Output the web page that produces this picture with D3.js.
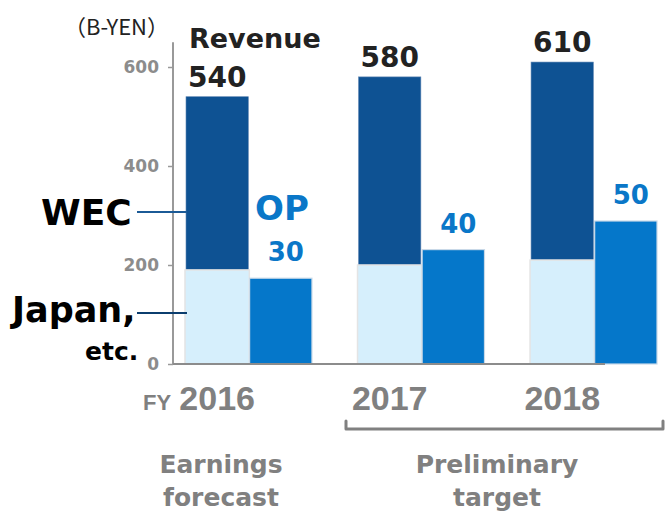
<!DOCTYPE html>
<html>
<head>
<meta charset="utf-8">
<script src="https://cdn.jsdelivr.net/npm/d3@7"></script>
<style>
  body { margin: 0; background: #fff; }
  svg { display: block; }
</style>
</head>
<body>
<div id="vis-holder"></div>
<script>
// Data
const years = ["2016", "2017", "2018"];
const japanRevenue = [190, 200, 210];
const totalRevenue = [540, 580, 610];
const operatingProfit = [30, 40, 50];
const revenueTicks = [0, 200, 400, 600];

const width = 665;
const height = 511;

const darkBlue = "#0e5293";
const lightBlue = "#d6effc";
const opBlue = "#0577ca";
const gray = "#808080";

const svg = d3.select("#vis-holder")
  .append("svg")
  .attr("width", width)
  .attr("height", height);

// Scales
const x = d3.scaleBand()
  .domain(years)
  .range([186, 657])
  .paddingInner(0.27)
  .paddingOuter(0);

const xInner = d3.scaleBand()
  .domain(["rev", "op"])
  .range([0, x.bandwidth()])
  .paddingInner(0.02);

const yRev = d3.scaleLinear().domain([0, 600]).range([364, 67]);
const yOp = d3.scaleLinear().domain([0, 50]).range([364, 221]);

const rows = years.map((yr, i) => ({
  year: yr,
  japan: japanRevenue[i],
  total: totalRevenue[i],
  op: operatingProfit[i]
}));

// Left axis
const yAxis = svg.append("g")
  .attr("transform", "translate(173,0)")
  .call(d3.axisLeft(yRev).tickValues(revenueTicks).tickSize(5).tickPadding(9))
  .call(g => g.select(".domain").remove());

yAxis.selectAll("line").attr("stroke", "#999").attr("stroke-width", 1.5);
yAxis.selectAll("text")
  .attr("fill", "#8c8c8c")
  .attr("font-family", "DejaVu Sans, Verdana, sans-serif")
  .attr("font-weight", "bold")
  .attr("font-size", "17px");

svg.append("line")
  .attr("x1", 173).attr("x2", 173)
  .attr("y1", yRev(0)).attr("y2", yRev(650))
  .attr("stroke", "#999").attr("stroke-width", 2);

// Bars
const group = svg.selectAll(".year")
  .data(rows)
  .enter()
  .append("g")
  .attr("class", "year")
  .attr("transform", d => `translate(${x(d.year)},0)`);

// WEC part (top of revenue)
group.append("rect")
  .attr("x", xInner("rev"))
  .attr("width", xInner.bandwidth())
  .attr("y", d => yRev(d.total))
  .attr("height", d => yRev(d.japan) - yRev(d.total))
  .attr("fill", darkBlue)
  .attr("stroke", "#5f86b3")
  .attr("stroke-width", 0.6);

// Japan, etc. part
group.append("rect")
  .attr("x", xInner("rev") - 1)
  .attr("width", xInner.bandwidth() + 2)
  .attr("y", d => yRev(d.japan))
  .attr("height", d => yRev(0) - yRev(d.japan))
  .attr("fill", lightBlue)
  .attr("stroke", "#e4e4e4")
  .attr("stroke-width", 1.5);

// OP bars
group.append("rect")
  .attr("x", xInner("op"))
  .attr("width", xInner.bandwidth())
  .attr("y", d => yOp(d.op))
  .attr("height", d => yOp(0) - yOp(d.op))
  .attr("fill", opBlue)
  .attr("stroke", "#c9d9e8")
  .attr("stroke-width", 1.2);

// Baseline
svg.append("line")
  .attr("x1", 173).attr("x2", 605)
  .attr("y1", yRev(0)).attr("y2", yRev(0))
  .attr("stroke", "#8c8c8c").attr("stroke-width", 2);

// Revenue labels
group.append("text")
  .attr("x", xInner("rev") + xInner.bandwidth() / 2)
  .attr("y", d => yRev(d.total) - 10)
  .attr("text-anchor", "middle")
  .attr("font-family", "DejaVu Sans, sans-serif")
  .attr("font-weight", "bold")
  .attr("font-size", "28px")
  .attr("fill", "#222")
  .text(d => d.total);

// OP labels
group.append("text")
  .attr("x", xInner("op") + xInner.bandwidth() / 2 + 5)
  .attr("y", d => yOp(d.op) - 17)
  .attr("text-anchor", "middle")
  .attr("font-family", "DejaVu Sans, sans-serif")
  .attr("font-weight", "bold")
  .attr("font-size", "26px")
  .attr("fill", "#0a77c8")
  .text(d => d.op);

// Year labels
group.append("text")
  .attr("x", xInner("rev") + xInner.bandwidth() / 2)
  .attr("y", 410)
  .attr("text-anchor", "middle")
  .attr("font-family", "Liberation Sans, Arial, sans-serif")
  .attr("font-weight", "bold")
  .attr("font-size", "34px")
  .attr("fill", gray)
  .text(d => d.year);

svg.append("text")
  .attr("x", 143).attr("y", 410)
  .attr("font-family", "Liberation Sans, Arial, sans-serif")
  .attr("font-weight", "bold")
  .attr("font-size", "22px")
  .attr("fill", gray)
  .text("FY");

// Bracket under 2017-2018
svg.append("path")
  .attr("d", "M346,421 L346,429 L663,429 L663,421")
  .attr("fill", "none")
  .attr("stroke", gray)
  .attr("stroke-width", 3)
  .attr("stroke-linejoin", "round")
  .attr("stroke-linecap", "round");

// Category captions
const captions = [
  { x: 221, lines: ["Earnings", "forecast"] },
  { x: 497, lines: ["Preliminary", "target"] }
];
captions.forEach(c => {
  c.lines.forEach((t, i) => {
    svg.append("text")
      .attr("x", c.x)
      .attr("y", 473 + i * 33)
      .attr("text-anchor", "middle")
      .attr("font-family", "DejaVu Sans, sans-serif")
      .attr("font-weight", "bold")
      .attr("font-size", "25px")
      .attr("fill", gray)
      .text(t);
  });
});

// Unit and series titles
svg.append("text")
  .attr("x", 64).attr("y", 35)
  .attr("font-family", "'Noto Sans CJK JP', sans-serif")
  .attr("font-size", "22px")
  .attr("fill", "#222")
  .text("（B-YEN）");

svg.append("text")
  .attr("x", 189).attr("y", 48)
  .attr("font-family", "DejaVu Sans, sans-serif")
  .attr("font-weight", "bold")
  .attr("font-size", "27px")
  .attr("fill", "#222")
  .text("Revenue");

svg.append("text")
  .attr("x", 255).attr("y", 220)
  .attr("font-family", "DejaVu Sans, sans-serif")
  .attr("font-weight", "bold")
  .attr("font-size", "34px")
  .attr("fill", "#0a77c8")
  .text("OP");

// Segment callouts
svg.append("text")
  .attr("x", 41).attr("y", 225)
  .attr("font-family", "DejaVu Sans, sans-serif")
  .attr("font-weight", "bold")
  .attr("font-size", "36px")
  .attr("fill", "#000")
  .text("WEC");

svg.append("line")
  .attr("x1", 137).attr("x2", 187)
  .attr("y1", 212).attr("y2", 212)
  .attr("stroke", "#1b5a96").attr("stroke-width", 2);

svg.append("text")
  .attr("x", 12).attr("y", 322)
  .attr("font-family", "DejaVu Sans, sans-serif")
  .attr("font-weight", "bold")
  .attr("font-size", "35px")
  .attr("fill", "#000")
  .text("Japan,");

svg.append("line")
  .attr("x1", 137).attr("x2", 187)
  .attr("y1", 313).attr("y2", 313)
  .attr("stroke", "#0b3d6e").attr("stroke-width", 2);

svg.append("text")
  .attr("x", 85).attr("y", 360)
  .attr("font-family", "DejaVu Sans, sans-serif")
  .attr("font-weight", "bold")
  .attr("font-size", "25px")
  .attr("fill", "#000")
  .text("etc.");
</script>
</body>
</html>
